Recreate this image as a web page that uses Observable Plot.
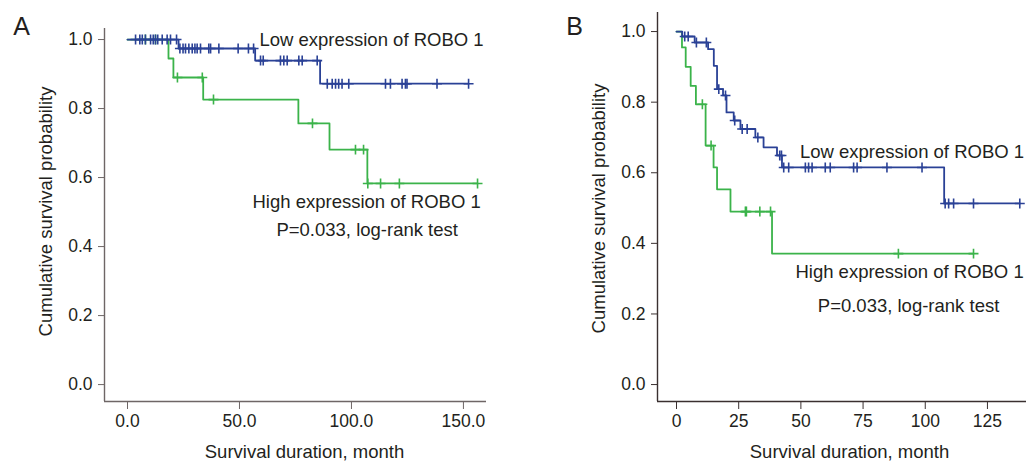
<!DOCTYPE html>
<html><head><meta charset="utf-8">
<script src="https://cdn.jsdelivr.net/npm/d3@7"></script>
<script src="https://cdn.jsdelivr.net/npm/@observablehq/plot@0.6"></script>
<style>
body{margin:0;background:#fff;}
#wrap{width:1026px;height:463px;display:flex;}
</style></head><body><div id="wrap"></div>
<script>
// ---------- Panel A data ----------
const aLowStepT = [0, 22.8, 57, 86];
const aLowStepS = [1.0, 0.974, 0.939, 0.872];
const aLowEnd = 152.3;
const aLowCensor = [3.6, 5.5, 6.6, 8.0, 10.3, 11.5, 12.5, 13.5, 15.5, 17.7, 19.2, 21.9,
  23.4, 24.8, 25.9, 27.4, 28.9, 30.1, 31.1, 32.6, 36.3, 37.1, 40.8, 49.4, 54.0, 56.3,
  59.4, 60.6, 68.3, 69.8, 71.3, 76.5, 78.0, 84.7,
  89.2, 91.4, 92.9, 94.3, 95.8, 98.8, 115.2, 117.4, 122.6, 124.1, 124.8, 138.2, 152.3];
const aHighStepT = [0, 18.3, 20.5, 33.8, 76.3, 90.2, 107.1];
const aHighStepS = [1.0, 0.945, 0.89, 0.826, 0.757, 0.681, 0.583];
const aHighEnd = 156.3;
const aHighCensor = [8.0, 12.5, 22.3, 33.4, 38.4, 82.6, 101.8, 105.4, 107.3, 113.0, 121.4, 156.3];
const aXTicks = [0, 50, 100, 150];
const aYTicks = [0, 0.2, 0.4, 0.6, 0.8, 1.0];

// ---------- Panel B data ----------
const bLowStepT = [0, 2.3, 7.3, 12.7, 15.0, 16.3, 18.7, 20.1, 23.0, 25.7, 31.7, 35.0, 40.4, 42.4, 107.6];
const bLowStepS = [1.0, 0.986, 0.969, 0.95, 0.903, 0.837, 0.819, 0.771, 0.748, 0.724, 0.70, 0.672, 0.649, 0.615, 0.513];
const bLowEnd = 138;
const bLowCensor = [3.3, 4.7, 8.0, 12.0, 17.0, 19.7, 23.4, 26.4, 28.4, 32.7, 41.5, 42.2,
  43.1, 45.1, 51.8, 53.1, 54.5, 59.8, 61.8, 71.2, 72.6, 84.6, 98.7, 108.0, 109.4, 111.4, 119.4, 138];
const bHighStepT = [0, 2.2, 3.7, 5.7, 7.8, 11.7, 14.9, 16.3, 21.7, 38.4];
const bHighStepS = [1.0, 0.955, 0.90, 0.846, 0.794, 0.677, 0.615, 0.553, 0.49, 0.371];
const bHighEnd = 119.4;
const bHighCensor = [10.4, 13.9, 27.7, 28.1, 33.5, 37.8, 89.2, 119.4];
const bXTicks = [0, 25, 50, 75, 100, 125];
const bYTicks = [0, 0.2, 0.4, 0.6, 0.8, 1.0];

const lowLabel = "Low expression of ROBO 1";
const highLabel = "High expression of ROBO 1";
const pLabel = "P=0.033, log-rank test";
const xTitle = "Survival duration, month";
const yTitle = "Cumulative survival probability";

const BLUE = "#2a4196";
const GREEN = "#3bb34a";
const TEXT = "#231f20";
const FONT = "'Liberation Sans', Arial, Helvetica, sans-serif";

function stepData(T, S, end) {
  const d = T.map((t, i) => ({t, s: S[i]}));
  d.push({t: end, s: S[S.length - 1]});
  return d;
}
function censorData(T, S, C) {
  return C.map(t => {
    let s = S[0];
    for (let i = 0; i < T.length; i++) if (T[i] <= t) s = S[i];
    return {t, s};
  });
}

function panel(cfg) {
  const low = stepData(cfg.lowT, cfg.lowS, cfg.lowEnd);
  const high = stepData(cfg.highT, cfg.highS, cfg.highEnd);
  const lowC = censorData(cfg.lowT, cfg.lowS, cfg.lowC);
  const highC = censorData(cfg.highT, cfg.highS, cfg.highC);
  return Plot.plot({
    width: cfg.width, height: 463,
    marginLeft: cfg.ml, marginRight: cfg.mr, marginTop: cfg.mt, marginBottom: 62,
    style: {fontFamily: FONT, fontSize: "17.5px", color: TEXT, background: "#fff"},
    x: {domain: cfg.xDomain},
    y: {domain: cfg.yDomain},
    marks: [
      Plot.axisX({ticks: cfg.xTicks, tickFormat: cfg.xFmt, tickSize: 8, tickPadding: 5,
        label: null, stroke: cfg.axisColor, fill: TEXT, fontSize: 17.5}),
      Plot.axisY({ticks: cfg.yTicks, tickFormat: d3.format(".1f"), tickSize: 6, tickPadding: 6,
        label: null, stroke: cfg.axisColor, fill: TEXT, fontSize: 17.5}),
      Plot.ruleX([cfg.xDomain[0]], {stroke: cfg.axisColor, strokeWidth: 1.4}),
      Plot.ruleY([cfg.yDomain[0]], {stroke: cfg.axisColor, strokeWidth: 1.4}),
      Plot.line(high, {x: "t", y: "s", curve: "step-after", stroke: GREEN, strokeWidth: 1.8}),
      Plot.line(low, {x: "t", y: "s", curve: "step-after", stroke: BLUE, strokeWidth: 1.8}),
      Plot.dot(highC, {x: "t", y: "s", symbol: "plus", r: 3.3, stroke: GREEN, strokeWidth: 1.6}),
      Plot.dot(lowC, {x: "t", y: "s", symbol: "plus", r: 3.3, stroke: BLUE, strokeWidth: 1.6}),
      Plot.text([lowLabel], {x: cfg.lowLab[0], y: cfg.lowLab[1], textAnchor: "start", fontSize: 18.5, fill: TEXT}),
      Plot.text([highLabel], {x: cfg.highLab[0], y: cfg.highLab[1], textAnchor: "start", fontSize: 18.5, fill: TEXT}),
      Plot.text([pLabel], {x: cfg.pLab[0], y: cfg.pLab[1], textAnchor: "start", fontSize: 18.5, fill: TEXT}),
      Plot.text([xTitle], {frameAnchor: "bottom", textAnchor: "middle", lineAnchor: "middle",
        dx: cfg.xtDx, dy: 51, fontSize: 18.5, fill: TEXT}),
      Plot.text([yTitle], {frameAnchor: "left", textAnchor: "middle", lineAnchor: "middle",
        rotate: -90, dx: -58.5, dy: cfg.ytDy, fontSize: 18.5, fill: TEXT}),
      Plot.text([cfg.letter], {frameAnchor: "top-left", textAnchor: "middle", lineAnchor: "middle",
        dx: cfg.letDx, dy: cfg.letDy, fontSize: 25, fill: TEXT})
    ]
  });
}

const wrap = document.getElementById("wrap");
wrap.append(panel({
  width: 540, ml: 104, mr: 54, mt: 28,
  xDomain: [-10.27, 160.3], yDomain: [-0.049, 1.032],
  xTicks: aXTicks, yTicks: aYTicks, xFmt: d3.format(".1f"), axisColor: "#6e6666",
  lowT: aLowStepT, lowS: aLowStepS, lowEnd: aLowEnd, lowC: aLowCensor,
  highT: aHighStepT, highS: aHighStepS, highEnd: aHighEnd, highC: aHighCensor,
  lowLab: [58.9, 0.997], highLab: [55.8, 0.528], pLab: [66.5, 0.449],
  xtDx: 9, ytDy: -3.5, letter: "A", letDx: -83, letDy: -2
}));
wrap.append(panel({
  width: 486, ml: 117, mr: 0, mt: 12,
  xDomain: [-7.64, 140.7], yDomain: [-0.048, 1.054],
  xTicks: bXTicks, yTicks: bYTicks, xFmt: d3.format("d"), axisColor: "#3a3030",
  lowT: bLowStepT, lowS: bLowStepS, lowEnd: bLowEnd, lowC: bLowCensor,
  highT: bHighStepT, highS: bHighStepS, highEnd: bHighEnd, highC: bHighCensor,
  lowLab: [49.6, 0.658], highLab: [47.8, 0.318], pLab: [56.8, 0.221],
  xtDx: 7.5, ytDy: 1.5, letter: "B", letDx: -83, letDy: 14
}));
</script></body></html>
